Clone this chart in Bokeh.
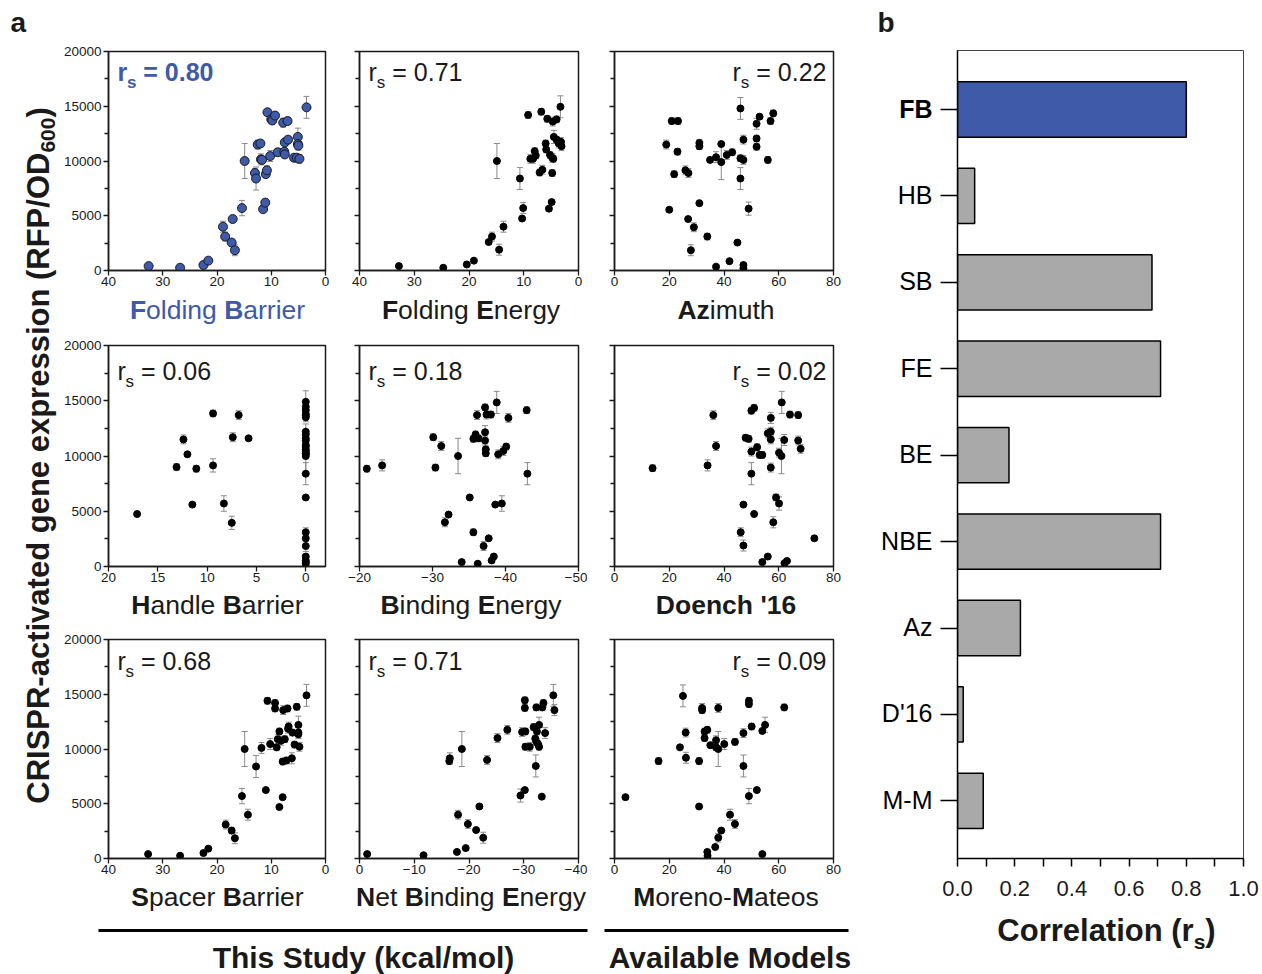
from bokeh.plotting import figure
from bokeh.models import (Range1d, Label, Whisker, TeeHead, ColumnDataSource,
                          FixedTicker, PrintfTickFormatter)
from bokeh.layouts import row, column
from bokeh.embed import file_html
from bokeh.resources import INLINE

FONT = "Liberation Sans"
BLUE = "#3F5AA8"
GRAY = "#A9A9A9"
INK = "#1a1a1a"

# ---------------- data ----------------
# panel b
cats = ["FB", "HB", "SB", "FE", "BE", "NBE", "Az", "D'16", "M-M"]
corr = [0.80, 0.06, 0.68, 0.71, 0.18, 0.71, 0.22, 0.02, 0.09]

# panel a: Folding Barrier
x_fb = [32.6, 26.8, 22.5, 21.6, 18.9, 18.5, 17.3, 17.1, 16.7, 15.4, 14.9, 13.0, 12.8, 12.5, 12.0, 11.9, 11.7, 11.5, 11.1, 11.0,
        10.8, 10.7, 10.2, 10.0, 9.8, 9.3, 8.8, 7.8, 7.6, 7.5, 7.5, 7.0, 6.9, 5.8, 5.3, 5.1, 5.1, 5.0, 4.8, 3.5]
y_fb = [400, 250, 500, 900, 4000, 3100, 2550, 4700, 1850, 5700, 10000, 8900, 8400, 11500, 11600, 10150, 10100, 5600, 6200, 8800,
        9150, 14450, 10450, 13800, 13700, 14150, 10800, 13500, 10850, 11700, 10600, 13650, 11950, 10300, 10300, 12200, 11550, 11400, 10200, 14900]
e_fb = [0, 0, 0, 0, 500, 400, 300, 200, 500, 700, 1600, 400, 1050, 400, 300, 500, 300, 200, 300, 300,
        400, 200, 500, 300, 300, 300, 300, 400, 300, 300, 300, 300, 300, 300, 300, 800, 500, 400, 400, 1000]

# Folding Energy
x_fe = [32.8, 24.7, 20.4, 19.1, 16.4, 15.8, 14.5, 14.9, 13.7, 10.7, 10.3, 10.1, 9.2, 8.8, 8.3, 8.0, 7.8, 7.1, 6.8, 6.6,
        6.0, 5.9, 5.7, 5.4, 5.2, 4.9, 4.8, 4.8, 4.7, 4.5, 4.0, 4.0, 3.6, 3.3, 3.2, 3.1, 4.6]
y_fe = [400, 250, 550, 900, 2600, 3100, 1900, 10000, 4000, 8400, 4750, 5700, 14200, 10200, 10200, 10900, 10500, 8950, 14500, 9200,
        11600, 11050, 13850, 5650, 10550, 6250, 10300, 8900, 13600, 12200, 13800, 11950, 11600, 14950, 11750, 11350, 10200]
e_fe = [0, 0, 0, 0, 200, 400, 500, 1600, 500, 1000, 200, 500, 300, 400, 400, 300, 300, 300, 300, 400,
        300, 300, 300, 200, 300, 200, 400, 300, 400, 600, 300, 300, 400, 1000, 400, 400, 300]

# Azimuth
x_az = [18.9, 20.9, 20.0, 21.8, 23.2, 23.0, 25.9, 27.0, 26.9, 29.0, 27.9, 31.0, 31.0, 31.0, 33.9, 34.9, 37.1, 37.1, 39.0, 39.0,
        41.0, 42.0, 43.0, 44.9, 46.0, 46.0, 46.0, 47.1, 47.1, 47.1, 47.1, 49.0, 51.9, 51.9, 51.9, 53.0, 56.0, 57.0, 58.0]
y_az = [11500, 13650, 5550, 8800, 13650, 10850, 9150, 8900, 4700, 3950, 1850, 11650, 11350, 6150, 3100, 10100, 10350, 350, 11550, 9900,
        10550, 850, 10800, 2550, 14800, 10250, 8400, 10100, 11950, 500, 200, 5650, 13400, 12050, 11300, 14050, 10100, 13650, 14350]
e_az = [400, 300, 0, 300, 300, 300, 400, 400, 0, 400, 500, 300, 300, 0, 300, 0, 500, 0, 0, 1600,
        400, 0, 300, 0, 1000, 300, 1000, 400, 400, 200, 200, 600, 500, 300, 300, 200, 300, 300, 300]

# Handle Barrier
x_hb = [17.1, 13.1, 12.4, 12.0, 11.5, 11.1, 9.4, 9.4, 8.3, 7.5, 7.4, 6.8, 5.8,
        0, 0, 0, 0, 0, 0, 0, 0, 0, 0, 0, 0, 0, 0, 0, 0, 0, 0, 0, 0, 0, 0, 0, 0, 0, 0]
y_hb = [4750, 9000, 11500, 10150, 5600, 8850, 9150, 13850, 5700, 3950, 11700, 13700, 11600,
        14900, 14450, 14150, 13800, 13650, 13500, 12200, 11950, 11600, 11400, 11000, 10850, 10600,
        10450, 10250, 10200, 10000, 8400, 6250, 3100, 2550, 1850, 900, 550, 400, 250]
e_hb = [0, 300, 400, 0, 0, 300, 600, 300, 700, 600, 400, 400, 0,
        1000, 300, 300, 300, 300, 400, 700, 300, 300, 500, 400, 300, 300,
        300, 500, 300, 1600, 1000, 0, 400, 300, 500, 200, 0, 0, 0]

# Binding Energy
x_be = [-21.0, -23.1, -30.1, -30.4, -31.2, -31.7, -32.2, -33.5, -34.0, -35.1, -35.6, -35.6, -35.9, -36.1, -36.2, -36.3, -37.0, -37.2,
        -37.2, -37.2, -37.3, -37.3, -37.4, -37.7, -38.0, -38.1, -38.4, -38.6, -38.8, -39.0, -39.5, -39.7, -40.1, -40.4, -42.9, -43.0]
y_be = [8850, 9150, 11700, 8950, 10900, 4000, 4700, 10000, 400, 6250, 3100, 11550, 11950, 13700, 250, 11600, 1850, 14400,
        12150, 11400, 10600, 10250, 13750, 2550, 13750, 550, 900, 5600, 14850, 10150, 5700, 10450, 10850, 13450, 14150, 8400]
e_be = [300, 500, 300, 300, 400, 400, 0, 1600, 0, 0, 300, 300, 300, 400, 0, 300, 400, 300,
        600, 400, 300, 300, 400, 0, 300, 0, 0, 0, 1000, 400, 700, 400, 300, 400, 300, 1000]

# Doench '16
x_do = [13.9, 34.0, 36.1, 37.1, 46.1, 47.1, 47.1, 47.9, 49.0, 50.0, 50.0, 50.0, 51.0, 51.0, 52.1, 53.0, 54.0, 54.0, 56.0,
        56.0, 57.1, 57.1, 57.1, 57.1, 58.0, 59.0, 60.1, 60.1, 61.0, 61.1, 62.0, 62.1, 63.0, 64.1, 67.1, 67.1, 68.0, 73.0]
y_do = [8900, 9150, 13700, 10900, 3100, 5600, 1900, 11650, 11550, 10400, 8400, 14100, 14350, 4750, 10800, 10100, 10100, 400, 900,
        12050, 12200, 11500, 13450, 8950, 4000, 6250, 10300, 5700, 10000, 14850, 11450, 300, 500, 13750, 13700, 11400, 10650, 2550]
e_do = [300, 500, 400, 400, 400, 0, 500, 300, 300, 400, 1000, 300, 300, 0, 300, 300, 300, 0, 0,
        400, 400, 400, 500, 400, 500, 300, 400, 600, 1600, 1000, 500, 0, 200, 300, 300, 400, 400, 0]

# Spacer Barrier
x_sb = [32.7, 26.8, 22.5, 21.6, 18.4, 17.3, 16.7, 15.4, 14.9, 14.3, 12.8, 11.8, 11.0, 10.7, 10.2, 9.3, 9.3, 9.0, 8.8, 8.5,
        8.5, 8.2, 7.9, 7.9, 7.8, 7.5, 7.2, 7.0, 6.9, 6.8, 6.2, 6.1, 5.7, 5.3, 5.0, 5.0, 5.0, 4.8, 3.5]
y_sb = [400, 250, 500, 900, 3100, 2550, 1850, 5700, 10000, 4000, 8400, 10100, 6250, 14400, 10450, 14200, 13700, 10150, 10900, 11600,
        4700, 10750, 5600, 8850, 13550, 10900, 8950, 13700, 11850, 12050, 9150, 11500, 10400, 13850, 12200, 11500, 11350, 10200, 14900]
e_sb = [0, 0, 0, 0, 400, 300, 500, 700, 1600, 500, 1000, 500, 0, 300, 500, 300, 300, 300, 400, 300,
        0, 400, 0, 300, 400, 300, 300, 300, 400, 400, 500, 300, 300, 300, 800, 500, 400, 400, 1000]

# Net Binding Energy
x_nb = [-1.4, -11.7, -16.4, -16.5, -17.8, -18.0, -18.7, -19.4, -19.8, -21.3, -21.9, -22.6, -23.3, -25.2, -27.0, -29.4, -29.7, -30.2, -30.2,
        -30.2, -30.3, -30.3, -31.1, -31.8, -32.1, -32.2, -32.3, -32.3, -32.4, -32.6, -32.8, -32.8, -33.3, -33.4, -33.6, -33.9, -35.4, -35.6]
y_nb = [400, 300, 8900, 9150, 600, 4000, 10000, 950, 3150, 2600, 4750, 1900, 9000, 11000, 11750, 5750, 11550, 6250, 14450,
        13750, 10200, 11600, 10200, 12000, 10950, 8450, 13800, 10650, 11600, 10450, 12200, 10200, 5650, 13800, 14200, 11450, 14900, 13550]
e_nb = [0, 0, 300, 500, 0, 400, 1600, 0, 400, 0, 0, 500, 400, 400, 400, 600, 400, 0, 300,
        300, 300, 300, 400, 300, 300, 1000, 300, 300, 300, 300, 700, 300, 0, 300, 300, 500, 1000, 500]

# Moreno-Mateos
x_mm = [4.0, 16.1, 23.9, 25.0, 26.0, 26.1, 30.9, 30.9, 32.0, 32.0, 32.9, 32.9, 33.9, 33.9, 34.0, 35.0, 36.8, 37.1, 37.1,
        37.9, 37.9, 37.9, 39.0, 40.1, 42.2, 44.0, 44.0, 47.1, 47.1, 49.1, 49.1, 49.1, 50.1, 52.0, 54.0, 54.0, 55.0, 62.0]
y_mm = [5600, 8900, 10150, 14850, 11500, 9200, 8900, 4750, 13750, 13550, 11600, 11000, 11750, 600, 250, 10350, 1050, 10800, 10150,
        13750, 10000, 1900, 2550, 10450, 4000, 10650, 3150, 11450, 8450, 14400, 14100, 5700, 12050, 6250, 11650, 400, 12200, 13800]
e_mm = [0, 300, 0, 1000, 400, 500, 300, 0, 400, 300, 300, 300, 300, 200, 200, 0, 0, 400, 300,
        400, 1600, 400, 0, 500, 500, 300, 400, 400, 1000, 300, 300, 700, 300, 0, 0, 0, 700, 300]

y_ticks = [0, 5000, 10000, 15000, 20000]
y_minor = [2500, 7500, 12500, 17500]
b_ticks = [0.0, 0.2, 0.4, 0.6, 0.8, 1.0]
b_minor = [0.1, 0.3, 0.5, 0.7, 0.9]

# grid order of panel a: key, x, y, err, x-range, x-ticks, label segments (text, bold)
PANELS = [
    ("FB", x_fb, y_fb, e_fb, (40, 0), [40, 30, 20, 10, 0], [("F", 1), ("olding ", 0), ("B", 1), ("arrier", 0)]),
    ("FE", x_fe, y_fe, e_fe, (40, 0), [40, 30, 20, 10, 0], [("F", 1), ("olding ", 0), ("E", 1), ("nergy", 0)]),
    ("Az", x_az, y_az, e_az, (0, 80), [0, 20, 40, 60, 80], [("Az", 1), ("imuth", 0)]),
    ("HB", x_hb, y_hb, e_hb, (20, -2), [20, 15, 10, 5, 0], [("H", 1), ("andle ", 0), ("B", 1), ("arrier", 0)]),
    ("BE", x_be, y_be, e_be, (-20, -50), [-20, -30, -40, -50], [("B", 1), ("inding ", 0), ("E", 1), ("nergy", 0)]),
    ("D'16", x_do, y_do, e_do, (0, 80), [0, 20, 40, 60, 80], [("Doench '16", 1)]),
    ("SB", x_sb, y_sb, e_sb, (40, 0), [40, 30, 20, 10, 0], [("S", 1), ("pacer ", 0), ("B", 1), ("arrier", 0)]),
    ("NBE", x_nb, y_nb, e_nb, (0, -40), [0, -10, -20, -30, -40],
     [("N", 1), ("et ", 0), ("B", 1), ("inding ", 0), ("E", 1), ("nergy", 0)]),
    ("M-M", x_mm, y_mm, e_mm, (0, 80), [0, 20, 40, 60, 80], [("M", 1), ("oreno-", 0), ("M", 1), ("ateos", 0)]),
]

# ---------------- text metrics (Arial / Liberation Sans) ----------------
_REG = {' ': 278, "'": 191, '(': 333, ')': 333, '-': 333, '.': 278, '/': 278, '=': 584,
        'A': 667, 'B': 667, 'C': 722, 'D': 722, 'E': 667, 'F': 611, 'H': 722, 'I': 278, 'M': 833, 'N': 722,
        'O': 778, 'P': 667, 'R': 722, 'S': 667, 'T': 611,
        'a': 556, 'b': 556, 'c': 500, 'd': 556, 'e': 556, 'g': 556, 'h': 556, 'i': 222, 'k': 500, 'l': 222,
        'm': 833, 'n': 556, 'o': 556, 'p': 556, 'r': 333, 's': 500, 't': 278, 'u': 556, 'v': 500, 'x': 500,
        'y': 500, 'z': 500}
_BOLD = {' ': 278, "'": 238, '(': 333, ')': 333, '-': 333, '.': 278, '/': 278, '=': 584,
         'A': 722, 'B': 722, 'C': 722, 'D': 722, 'E': 667, 'F': 611, 'H': 722, 'I': 278, 'M': 833, 'N': 722,
         'O': 778, 'P': 667, 'R': 722, 'S': 667, 'T': 611,
         'a': 556, 'b': 611, 'c': 556, 'd': 611, 'e': 556, 'g': 611, 'h': 611, 'i': 278, 'k': 556, 'l': 278,
         'm': 889, 'n': 611, 'o': 611, 'p': 611, 'r': 389, 's': 556, 't': 333, 'u': 611, 'v': 556, 'x': 556,
         'y': 556, 'z': 500}
NBSP = "\u00a0"
MID = 0.33   # distance (em) from baseline up to the "middle" anchor


def tw(text, bold, size):
    t = _BOLD if bold else _REG
    return sum(t.get(c, 556) for c in text) * size / 1000.0


def px2data(fr, px, py):
    L, T, W, H, xr, yr = fr
    return (xr[0] + (px - L) / W * (xr[1] - xr[0]),
            yr[0] + (T + H - py) / H * (yr[1] - yr[0]))


def mk_label(x, y, t, b, s, color, angle=0.0, align="left"):
    return Label(x=x, y=y, text=t.replace(" ", NBSP), text_font=FONT, text_font_size=f"{s}px",
                 text_font_style="bold" if b else "normal", text_color=color,
                 text_align=align, text_baseline="middle", angle=angle)


def add_text(p, fr, segs, px, py, align="left", color=INK):
    """segs: (text, bold, size, dy) ; horizontal text, baseline at py (screen px)."""
    widths = [tw(t, b, s) for t, b, s, d in segs]
    total = sum(widths)
    pos = px if align == "left" else (px - total / 2 if align == "center" else px - total)
    for (t, b, s, d), w in zip(segs, widths):
        x, y = px2data(fr, pos, py + d - MID * s)
        p.add_layout(mk_label(x, y, t, b, s, color))
        pos += w


def add_vtext(p, fr, segs, bx, cy, color=INK):
    """text rotated 90 deg; baseline at x=bx, centred on cy (screen px)."""
    widths = [tw(t, b, s) for t, b, s, d in segs]
    total = sum(widths)
    pos = cy + total / 2
    for (t, b, s, d), w in zip(segs, widths):
        x, y = px2data(fr, bx + d - MID * s, pos)
        p.add_layout(mk_label(x, y, t, b, s, color, angle=1.5707963))
        pos -= w


def canvas(x0, y0, w, h):
    p = figure(width=w, height=h, x_range=Range1d(x0, x0 + w), y_range=Range1d(y0 + h, y0),
               toolbar_location=None, output_backend="svg", x_axis_type=None, y_axis_type=None,
               min_border_left=0, min_border_right=0, min_border_top=0, min_border_bottom=0,
               outline_line_color=None)
    return p, (x0, y0, w, h, (x0, x0 + w), (y0 + h, y0))


# ---------------- geometry (screen px, page origin at 0,0) ----------------
FIG_X = [60, 332, 587]
FIG_W = [272, 255, 283]
COL_L = [105, 359, 614]
COL_W = [220, 219, 219]
FIG_Y = [0, 326, 622]
FIG_H = [293, 263, 259]
ROW_T = [51, 345, 639]
ROW_H = [219, 221, 219]
R_BASE = [80, 379, 669]
STRIPS = [(293, 33, 318), (589, 33, 613)]   # (y0, h, label baseline); third row label goes in bottom canvas
BOT_Y0, BOT_H, BOT_LBL = 881, 93, 905

rmap = dict(zip(cats, corr))

figs = []
strip_figs = [canvas(60, y0, 810, h) for (y0, h, _) in STRIPS]
bot, bfr = canvas(60, BOT_Y0, 810, BOT_H)
label_targets = [strip_figs[0], strip_figs[1], (bot, bfr)]
label_base = [STRIPS[0][2], STRIPS[1][2], BOT_LBL]

for i, (key, xs, ys, es, xr, xt, lab) in enumerate(PANELS):
    c, r = i % 3, i // 3
    L, W, T, H = COL_L[c], COL_W[c], ROW_T[r], ROW_H[r]
    fx, fw, fy, fh = FIG_X[c], FIG_W[c], FIG_Y[r], FIG_H[r]
    p = figure(width=fw, height=fh, x_range=Range1d(*xr), y_range=Range1d(0, 20000),
               toolbar_location=None, output_backend="svg",
               min_border_left=L - fx, min_border_right=fx + fw - L - W,
               min_border_top=T - fy, min_border_bottom=fy + fh - T - H,
               outline_line_color=INK, outline_line_width=1.5)
    p.grid.grid_line_color = None
    for ax in (p.xaxis[0], p.yaxis[0]):
        ax.axis_line_width = 1.5
        ax.axis_line_color = INK
        ax.major_tick_line_color = INK
        ax.minor_tick_line_color = INK
        ax.major_tick_line_width = 1.3
        ax.minor_tick_line_width = 1.3
        ax.major_tick_in = 0
        ax.minor_tick_in = 0
        ax.major_label_text_font = FONT
        ax.major_label_text_font_size = "13.5px"
        ax.major_label_text_color = INK
        ax.major_label_standoff = 2
    p.xaxis.ticker = FixedTicker(ticks=xt, minor_ticks=[])
    p.xaxis.major_tick_out = 5
    p.xaxis.major_label_standoff = 1
    p.yaxis.ticker = FixedTicker(ticks=y_ticks, minor_ticks=y_minor)
    p.yaxis.major_tick_out = 5
    p.yaxis.minor_tick_out = 4
    if c != 0:
        p.yaxis.major_label_text_color = None
        p.yaxis.major_label_text_font_size = "1px"
        p.yaxis.major_label_standoff = 0

    lo = [y - e for y, e in zip(ys, es)]
    hi = [y + e for y, e in zip(ys, es)]
    src = ColumnDataSource(dict(x=xs, y=ys, lo=lo, hi=hi))
    p.add_layout(Whisker(source=src, base="x", lower="lo", upper="hi", dimension="height",
                         line_color="#8a8a8a", line_width=1,
                         lower_head=TeeHead(size=6, line_color="#8a8a8a", line_width=1),
                         upper_head=TeeHead(size=6, line_color="#8a8a8a", line_width=1)))
    if key == "FB":
        p.scatter("x", "y", source=src, size=9, fill_color=BLUE, line_color="#111111", line_width=0.9)
        col, bold = BLUE, 1
    else:
        p.scatter("x", "y", source=src, size=7, fill_color="black", line_color="black")
        col, bold = INK, 0

    fr = (L, T, W, H, xr, (0, 20000))
    # r_s annotation inside the frame
    rs = [("r", bold, 25, 0), ("s", bold, 17, 8), (f" = {rmap[key]:.2f}", bold, 25, 0)]
    if c == 2:
        add_text(p, fr, rs, L + W - 7, R_BASE[r], "right", col)
    else:
        add_text(p, fr, rs, L + 9, R_BASE[r], "left", col)
    # x-axis label with bold initials, in the strip below
    tp, tfr = label_targets[r]
    add_text(tp, tfr, [(t, b, 26.5, 0) for t, b in lab], L + W / 2 + 2, label_base[r], "center", col)
    figs.append(p)

# bottom: group brackets
bot.segment(x0=[98, 604], y0=[930, 930], x1=[587, 848], y1=[930, 930], line_width=3, line_color="black")
add_text(bot, bfr, [("This Study (kcal/mol)", 1, 30, 0)], 363, 967, "center")
add_text(bot, bfr, [("Available Models", 1, 30, 0)], 730, 967, "center")

# left canvas: "a" and the shared y label
yl, yfr = canvas(0, 0, 60, 974)
add_text(yl, yfr, [("a", 1, 28, 0)], 10, 31, "left")
add_vtext(yl, yfr, [("CRISPR-activated gene expression (RFP/OD", 1, 31, 0), ("600", 1, 21, 6), (")", 1, 31, 0)],
          48, 455)

# ---------------- panel b ----------------
n = len(cats)
ypos = [n - i for i in range(n)]
colors = [BLUE if c == "FB" else GRAY for c in cats]
bL, bT, bW, bH = 957, 50, 286, 808
b_yr = (0.333, 9.683)
PB_X, PB_Y, PB_W, PB_H = 935, 0, 327, 910
pb = figure(width=PB_W, height=PB_H, x_range=Range1d(0, 1), y_range=Range1d(*b_yr),
            toolbar_location=None, output_backend="svg",
            min_border_left=bL - PB_X, min_border_right=PB_X + PB_W - bL - bW,
            min_border_top=bT - PB_Y, min_border_bottom=PB_Y + PB_H - bT - bH,
            outline_line_color="#444444", outline_line_width=1)
pb.grid.grid_line_color = None
pb.hbar(y=ypos, left=0, right=corr, height=0.64, fill_color=colors, line_color="black", line_width=1.5)
for ax in (pb.xaxis[0], pb.yaxis[0]):
    ax.axis_line_width = 1.5
    ax.axis_line_color = "black"
    ax.major_tick_line_color = "black"
    ax.minor_tick_line_color = "black"
    ax.major_tick_line_width = 1.5
    ax.minor_tick_line_width = 1.5
    ax.major_tick_in = 0
    ax.minor_tick_in = 0
    ax.major_label_text_font = FONT
    ax.major_label_text_color = INK
pb.xaxis.ticker = FixedTicker(ticks=b_ticks, minor_ticks=b_minor)
pb.xaxis.formatter = PrintfTickFormatter(format="%.1f")
pb.xaxis.major_tick_out = 8
pb.xaxis.minor_tick_out = 8
pb.xaxis.major_label_standoff = 14
pb.xaxis.major_label_text_font_size = "22px"
pb.yaxis.ticker = FixedTicker(ticks=ypos, minor_ticks=[])
pb.yaxis.major_tick_out = 17
pb.yaxis.major_label_standoff = 0
pb.yaxis.major_label_text_font_size = "1px"
pb.yaxis.major_label_text_color = None

# category labels (and "b") in a canvas to the left of panel b
bl, blfr = canvas(870, 0, PB_X - 870, 974)
add_text(bl, blfr, [("b", 1, 28, 0)], 877, 31, "left")
for yv, cname in zip(ypos, cats):
    py = bT + (b_yr[1] - yv) / (b_yr[1] - b_yr[0]) * bH
    bl.add_layout(mk_label(932, py - 1, cname, cname == "FB", 25, "black", align="right"))

bbot, bbfr = canvas(PB_X, PB_Y + PB_H, PB_W, 974 - PB_Y - PB_H)
add_text(bbot, bbfr, [("Correlation (r", 1, 31, 0), ("s", 1, 21, 8), (")", 1, 31, 0)], 1106, 940, "center")

left_grid = column(row(*figs[0:3]), strip_figs[0][0], row(*figs[3:6]), strip_figs[1][0], row(*figs[6:9]), bot)
right_block = row(bl, column(row(pb), bbot))
layout = row(yl, left_grid, right_block)

open("out.html", "w").write(file_html(layout, INLINE))
